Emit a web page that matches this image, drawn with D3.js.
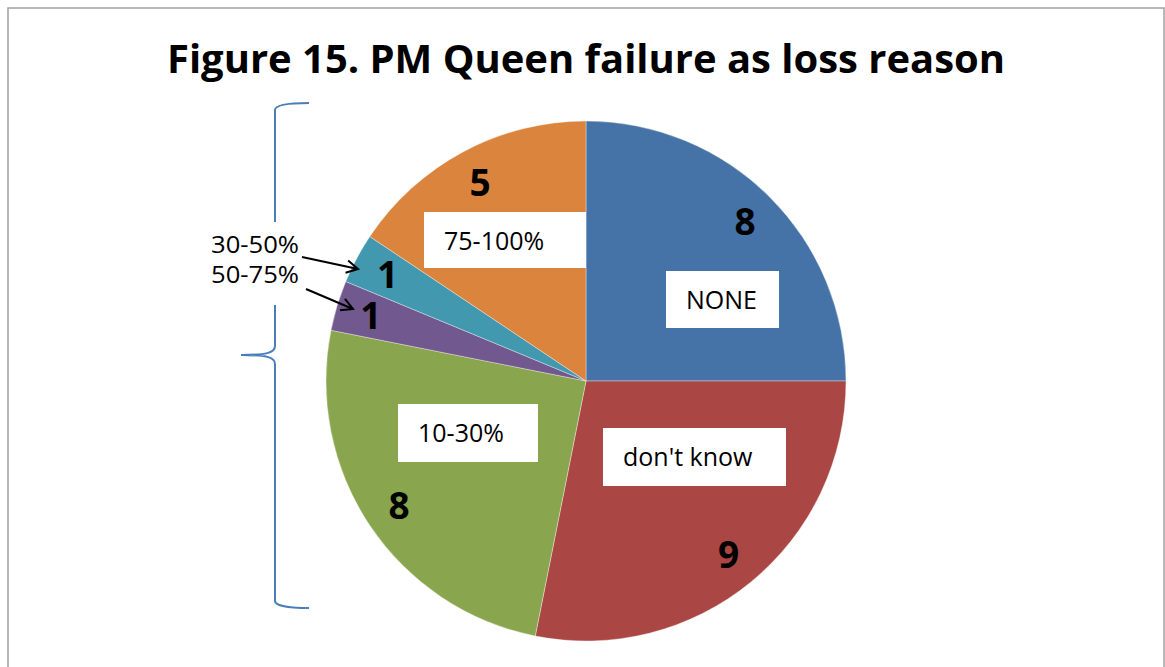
<!DOCTYPE html>
<html>
<head>
<meta charset="utf-8">
<script src="https://cdn.jsdelivr.net/npm/d3@7"></script>
<style>
  html, body { margin: 0; padding: 0; background: #fff; }
  svg { display: block; }
  text { font-family: "Open Sans", "Noto Sans", sans-serif; }
</style>
</head>
<body>
<svg id="chart" width="1165" height="667"></svg>
<script>
// ---- data ----
const categories = ["NONE", "don't know", "10-30%", "50-75%", "30-50%", "75-100%"];
const values = [8, 9, 8, 1, 1, 5];
const colors = ["#4573A7", "#AA4643", "#89A54E", "#71588F", "#4198AF", "#DB843D"];
const titleText = "Figure 15. PM Queen failure as loss reason";
// categories labelled with boxes inside the pie, and those labelled outside with arrows
const boxedCategories = ["NONE", "don't know", "10-30%", "75-100%"];
const arrowCategories = ["30-50%", "50-75%"];

// ---- layout ----
const W = 1165, H = 667;
const cx = 586, cy = 381, R = 260;
const boxLayout = {
  "NONE":       {dx: 80,  dy: -110, w: 113, h: 57},
  "don't know": {dx: 17,  dy: 47,   w: 183, h: 58},
  "10-30%":     {dx: -188, dy: 23,  w: 140, h: 58},
  "75-100%":    {dx: -162, dy: -169, w: 162, h: 56}
};

const svg = d3.select("#chart");

// outer frame
svg.append("rect")
  .attr("x", 8).attr("y", 8).attr("width", 1156).attr("height", 700)
  .attr("fill", "#fff").attr("stroke", "#a0a0a0").attr("stroke-width", 1.5);

// title
svg.append("text")
  .attr("x", cx).attr("y", 73)
  .attr("text-anchor", "middle")
  .attr("font-weight", "bold")
  .attr("font-size", 40)
  .attr("fill", "#000")
  .attr("textLength", 838)
  .attr("lengthAdjust", "spacingAndGlyphs")
  .text(titleText);

// pie
const pie = d3.pie().sort(null).value(d => d.value);
const data = categories.map((c, i) => ({category: c, value: values[i], color: colors[i]}));
const arcs = pie(data);
const arc = d3.arc().innerRadius(0).outerRadius(R);
const labelArc = d3.arc().innerRadius(R * 0.865).outerRadius(R * 0.865);

const g = svg.append("g").attr("transform", `translate(${cx},${cy})`);
g.selectAll("path.slice")
  .data(arcs)
  .join("path")
  .attr("class", "slice")
  .attr("d", arc)
  .attr("fill", d => d.data.color)
  .attr("stroke", "#fff")
  .attr("stroke-width", 0.6)
  .attr("stroke-opacity", 0.6);

// value labels
g.selectAll("text.val")
  .data(arcs)
  .join("text")
  .attr("class", "val")
  .attr("transform", d => `translate(${labelArc.centroid(d)})`)
  .attr("text-anchor", "middle")
  .attr("dy", "0.36em")
  .attr("font-weight", "bold")
  .attr("font-size", 37)
  .attr("fill", "#000")
  .text(d => d.data.value);

// boxed category labels
const boxed = arcs.filter(d => boxedCategories.includes(d.data.category));
const bg = g.selectAll("g.box").data(boxed).join("g").attr("class", "box")
  .attr("transform", d => {
    const b = boxLayout[d.data.category];
    return `translate(${b.dx},${b.dy})`;
  });
bg.append("rect")
  .attr("width", d => boxLayout[d.data.category].w)
  .attr("height", d => boxLayout[d.data.category].h)
  .attr("fill", "#fff");
bg.append("text")
  .attr("x", 20).attr("y", 37.5)
  .attr("font-size", 25)
  .attr("fill", "#000")
  .text(d => d.data.category);

// bracket
svg.append("path")
  .attr("d", "M309,103 C292,103 275,104 275,110 L275,346 C275,353 266,355 241,355 C266,355 275,357 275,364 L275,601 C275,606 292,608 309,608")
  .attr("fill", "none").attr("stroke", "#4A7EBB").attr("stroke-width", 2);

// white panel behind outside labels
svg.append("rect").attr("x", 205).attr("y", 222).attr("width", 100).attr("height", 83).attr("fill", "#fff");

// outside labels with arrows
const arrowLayout = {
  "30-50%": {ty: 253, x1: 302, y1: 257, x2: 358, y2: 269},
  "50-75%": {ty: 283, x1: 306, y1: 289, x2: 353, y2: 309}
};
arrowCategories.forEach(c => {
  const a = arrowLayout[c];
  svg.append("text")
    .attr("x", 211).attr("y", a.ty)
    .attr("font-family", "Lato, 'Open Sans', sans-serif")
    .attr("font-size", 24)
    .attr("textLength", 88)
    .attr("lengthAdjust", "spacingAndGlyphs")
    .attr("fill", "#000")
    .text(c);
  svg.append("line")
    .attr("x1", a.x1).attr("y1", a.y1).attr("x2", a.x2).attr("y2", a.y2)
    .attr("stroke", "#000").attr("stroke-width", 2);
  const ang = Math.atan2(a.y2 - a.y1, a.x2 - a.x1);
  const L = 13, spread = 0.5;
  const p1 = [a.x2 - L * Math.cos(ang - spread), a.y2 - L * Math.sin(ang - spread)];
  const p2 = [a.x2 - L * Math.cos(ang + spread), a.y2 - L * Math.sin(ang + spread)];
  svg.append("path")
    .attr("d", `M${p1[0]},${p1[1]} L${a.x2},${a.y2} L${p2[0]},${p2[1]}`)
    .attr("fill", "none").attr("stroke", "#000").attr("stroke-width", 2);
});
</script>
</body>
</html>
